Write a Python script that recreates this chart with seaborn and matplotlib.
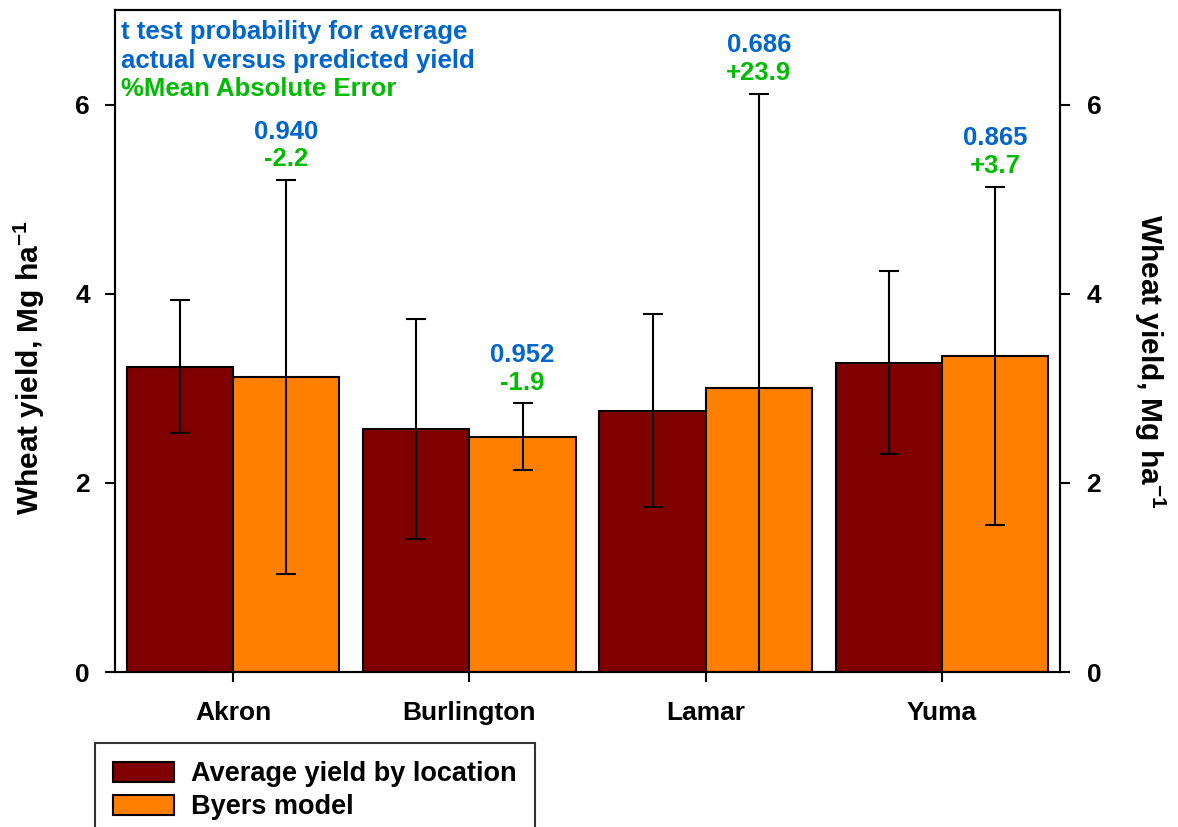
import numpy as np
import pandas as pd
import matplotlib
matplotlib.use("Agg")
import matplotlib.pyplot as plt
import seaborn as sns

# ---- data ----
locations = ["Akron", "Burlington", "Lamar", "Yuma"]
series_names = ["Average yield by location", "Byers model"]
avg_yield = [3.23, 2.57, 2.76, 3.27]
avg_err = [0.70, 1.16, 1.02, 0.97]
byers_yield = [3.12, 2.49, 3.00, 3.34]
byers_err = [2.08, 0.35, 3.11, 1.79]
t_prob = ["0.940", "0.952", "0.686", "0.865"]
mae_pct = ["-2.2", "-1.9", "+23.9", "+3.7"]
y_ticks = [0, 2, 4, 6]
note_lines = ["t test probability for average", "actual versus predicted yield", "%Mean Absolute Error"]

colors = ["#800000", "#FF8000"]
blue = "#0066CC"
green = "#00BB00"

sns.set_theme(style="white")
plt.rcParams["font.family"] = ["Liberation Sans", "DejaVu Sans"]
plt.rcParams["font.weight"] = "bold"
plt.rcParams["text.color"] = "black"
plt.rcParams["axes.labelcolor"] = "black"
plt.rcParams["xtick.color"] = "black"
plt.rcParams["ytick.color"] = "black"
plt.rcParams["mathtext.fontset"] = "custom"
plt.rcParams["mathtext.rm"] = "Liberation Sans:bold"
plt.rcParams["mathtext.bf"] = "Liberation Sans:bold"
plt.rcParams["mathtext.it"] = "Liberation Sans:bold"

df = pd.DataFrame({
    "location": locations * 2,
    "series": [series_names[0]] * 4 + [series_names[1]] * 4,
    "value": avg_yield + byers_yield,
})

fig = plt.figure(figsize=(11.78, 8.27), dpi=100)
ax = fig.add_axes([0.0976, 0.1874, 0.8024, 0.8006])

sns.barplot(data=df, x="location", y="value", hue="series", palette=colors,
            errorbar=None, width=0.9, edgecolor="black", linewidth=1.5,
            saturation=1, ax=ax)

ann_fs = 18.5
errs = [avg_err, byers_err]
bar_conts = list(ax.containers)[:2]
for ci, cont in enumerate(bar_conts):
    xs = [b.get_x() + b.get_width() / 2 for b in cont]
    hs = [b.get_height() for b in cont]
    ax.errorbar(xs, hs, yerr=errs[ci], fmt="none", ecolor="black",
                elinewidth=1.5, capsize=7, capthick=1.5, zorder=5)
    if ci == 1:
        for i, (x, h) in enumerate(zip(xs, hs)):
            top = h + byers_err[i]
            ax.annotate(mae_pct[i], (x, top), xytext=(0, 15), textcoords="offset points",
                        ha="center", va="center", color=green, fontsize=ann_fs, fontweight="bold")
            ax.annotate(t_prob[i], (x, top), xytext=(0, 35), textcoords="offset points",
                        ha="center", va="center", color=blue, fontsize=ann_fs, fontweight="bold")

ax.set_xlim(-0.5, 3.5)
ax.set_ylim(0, 7)
ax.set_yticks(y_ticks)
ax.set_yticklabels([str(t) for t in y_ticks])
ax.set_xlabel("")
ax.set_ylabel(r"Wheat yield, Mg ha$^{-1}$", fontsize=21.5, fontweight="bold", labelpad=20)
ax.yaxis.label.set_y(0.46)

for s in ax.spines.values():
    s.set_visible(True)
    s.set_color("black")
    s.set_linewidth(1.5)

ax.tick_params(axis="both", which="major", direction="out", length=7, width=1.5,
               color="black", labelsize=19, bottom=True, left=True)
ax.tick_params(axis="y", pad=11)
ax.tick_params(axis="x", pad=14)
for lab in ax.get_xticklabels() + ax.get_yticklabels():
    lab.set_fontweight("bold")

ax2 = ax.twinx()
ax2.set_ylim(ax.get_ylim())
ax2.set_yticks(y_ticks)
ax2.set_yticklabels([str(t) for t in y_ticks])
ax2.tick_params(axis="y", direction="out", length=7, width=1.5, color="black",
                labelsize=19, right=True, pad=12)
for lab in ax2.get_yticklabels():
    lab.set_fontweight("bold")
ax2.set_ylabel(r"Wheat yield, Mg ha$^{-1}$", fontsize=21.5, fontweight="bold",
               rotation=270, va="bottom", labelpad=22)
ax2.yaxis.label.set_y(0.47)
ax2.grid(False)
for s in ax2.spines.values():
    s.set_linewidth(1.5)
    s.set_color("black")

note_colors = [blue, blue, green]
for i, (txt, c) in enumerate(zip(note_lines, note_colors)):
    ax.text(0.006, 0.967 - i * 0.0435, txt, transform=ax.transAxes, ha="left", va="center",
            color=c, fontsize=ann_fs, fontweight="bold")

handles, labels = ax.get_legend_handles_labels()
ax.get_legend().remove()
leg = fig.legend(handles, labels, loc="upper left",
                 bbox_to_anchor=(95 / 1178, 1 - 743 / 827),
                 frameon=True, fancybox=False, fontsize=19.5,
                 handlelength=2.25, handleheight=0.74, handletextpad=0.63,
                 borderpad=0.68, labelspacing=0.25, borderaxespad=0)
leg.get_frame().set_edgecolor("black")
leg.get_frame().set_linewidth(1.5)
for t in leg.get_texts():
    t.set_fontweight("bold")
for h in leg.legend_handles:
    h.set_edgecolor("black")
    h.set_linewidth(1.5)

fig.savefig("out.png", dpi=100)
